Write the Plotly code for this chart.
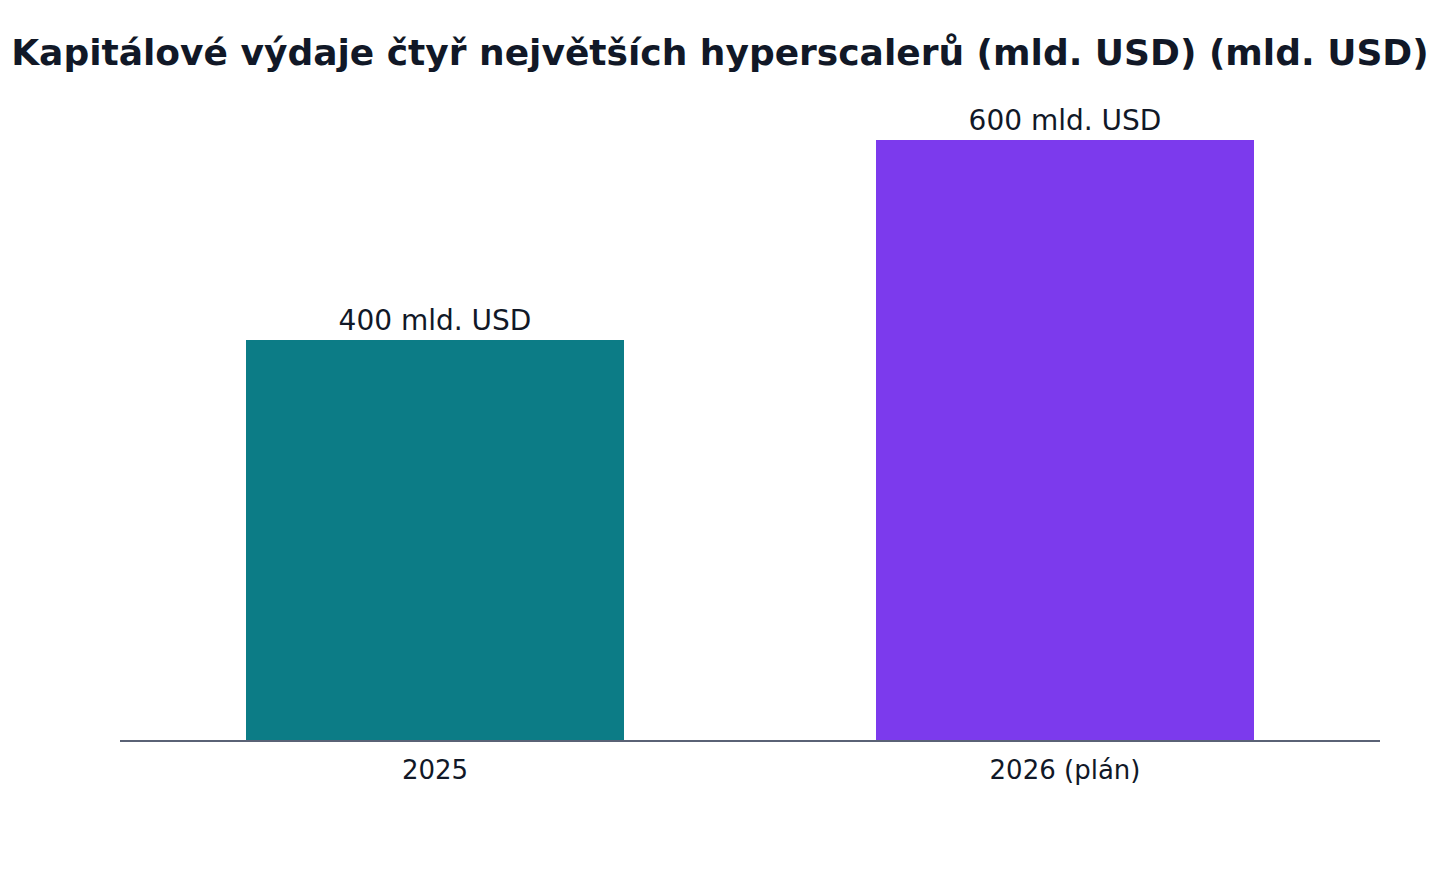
import plotly.graph_objects as go

categories = ["2025", "2026 (plán)"]
values = [400, 600]
labels = ["400 mld. USD", "600 mld. USD"]
colors = ["#0c7c86", "#7c3aed"]

fig = go.Figure(go.Bar(
    x=categories, y=values, text=labels, textposition="outside",
    marker=dict(color=colors, line=dict(width=0)),
    textfont=dict(size=28, color="#111827"),
    cliponaxis=False, width=0.6,
))
fig.update_layout(
    width=1440, height=880,
    paper_bgcolor="white", plot_bgcolor="white",
    font=dict(family="DejaVu Sans", color="#111827"),
    title=dict(text="<b>Kapitálové výdaje čtyř největších hyperscalerů (mld. USD) (mld. USD)</b>",
               x=0.4944, xanchor="center", y=0.95, yanchor="middle", font=dict(size=36, color="#111827")),
    margin=dict(l=112, r=68, t=132, b=148),
    showlegend=False,
    xaxis=dict(showline=True, linecolor="#5a6275", linewidth=2, tickfont=dict(size=26), ticks="",
               ticklabelstandoff=6, showgrid=False),
    yaxis=dict(range=[0, 600], visible=False, showgrid=False, zeroline=False),
)
fig.write_html("out.html")
